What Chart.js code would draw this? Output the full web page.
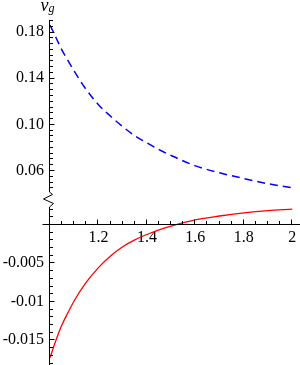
<!DOCTYPE html>
<html>
<head>
<meta charset="utf-8">
<script src="https://cdn.jsdelivr.net/npm/chart.js@4.4.1/dist/chart.umd.min.js"></script>
<style>
  html, body { margin: 0; padding: 0; background: #fff; }
</style>
</head>
<body>
<canvas id="chart" width="300" height="365"></canvas>
<script>
'use strict';

// ---------- data ----------
const X_VALUES = [1, 1.025, 1.05, 1.075, 1.1, 1.15, 1.2, 1.25, 1.3, 1.35, 1.4, 1.45, 1.5, 1.6, 1.7, 1.8, 1.9, 2];
const VG_BLUE = [0.186, 0.175, 0.164, 0.155, 0.146, 0.130, 0.117, 0.107, 0.098, 0.090, 0.084, 0.078, 0.073, 0.064, 0.058, 0.053, 0.0485, 0.045];
const VG_RED = [-0.0173, -0.0150, -0.0130, -0.0114, -0.0099, -0.0075, -0.0056, -0.0041, -0.0029, -0.0020, -0.0013, -0.0007, -0.0002, 0.0006, 0.0011, 0.0015, 0.0018, 0.0020];

const X_TICKS = [1.2, 1.4, 1.6, 1.8, 2];
const X_LABELS = ['1.2', '1.4', '1.6', '1.8', '2'];
const TOP_TICKS = [0.06, 0.10, 0.14, 0.18];
const TOP_LABELS = ['0.06', '0.10', '0.14', '0.18'];
const LOW_TICKS = [-0.015, -0.01, -0.005];
const LOW_LABELS = ['-0.015', '-0.01', '-0.005'];

// minor tick spacing per axis
const MINOR = { x: 0.05, yTop: 0.005, yLow: 0.001 };

const FONT = { family: 'Liberation Serif, serif', size: 16 };

function fixedTicks(values) {
  return (scale) => { scale.ticks = values.map((value) => ({ value })); };
}
function labelFor(values, labels) {
  return (v) => labels[values.findIndex((t) => Math.abs(t - v) < 1e-9)];
}
function isMajor(values, v) {
  return values.some((t) => Math.abs(t - v) < 1e-9);
}

// ---------- axes with the break mark ----------
const axesPlugin = {
  id: 'mmaAxes',
  afterDraw(chart) {
    const { ctx, scales } = chart;
    const { x, yTop, yLow } = scales;
    const ax = Math.round(x.getPixelForValue(1)) - 0.5;
    const ay = Math.floor(yLow.getPixelForValue(0)) + 0.5;
    const brk = yTop.bottom;

    ctx.save();
    ctx.strokeStyle = '#000';
    ctx.lineWidth = 1;
    ctx.beginPath();
    ctx.moveTo(ax, yTop.top);
    ctx.lineTo(ax, brk - 8);
    ctx.lineTo(ax + 3, brk - 5.5);
    ctx.lineTo(ax - 6, brk - 1);
    ctx.lineTo(ax + 4, brk + 3.5);
    ctx.lineTo(ax, brk + 7);
    ctx.lineTo(ax, yLow.bottom);
    ctx.moveTo(ax - 7, ay);
    ctx.lineTo(x.right, ay);
    ctx.stroke();

    ctx.beginPath();
    const yTick = (scale, step, majors, keep) => {
      for (let k = Math.ceil(scale.min / step - 1e-6); k * step <= scale.max + 1e-9; k++) {
        const v = k * step;
        const py = Math.floor(scale.getPixelForValue(v)) + 0.5;
        if (!keep(py, v)) continue;
        const len = isMajor(majors, v) ? 5 : 3.5;
        ctx.moveTo(ax, py);
        ctx.lineTo(ax + len, py);
      }
    };
    yTick(yTop, MINOR.yTop, TOP_TICKS, (py) => py < brk - 9);
    yTick(yLow, MINOR.yLow, LOW_TICKS, (py, v) => py > brk + 8 && Math.abs(v) > 1e-9);
    for (let k = Math.ceil(x.min / MINOR.x - 1e-6); k * MINOR.x <= x.max + 1e-9; k++) {
      const v = k * MINOR.x;
      if (Math.abs(v - x.min) < 1e-9) continue;
      const px = Math.round(x.getPixelForValue(v)) - 0.5;
      const len = isMajor(X_TICKS, v) ? 5 : 3.5;
      ctx.moveTo(px, ay);
      ctx.lineTo(px, ay - len);
    }
    ctx.stroke();

    // axis label v_g
    ctx.fillStyle = '#000';
    ctx.textBaseline = 'alphabetic';
    ctx.font = "italic 18px 'Liberation Serif', serif";
    ctx.fillText('v', ax - 9, 11);
    ctx.font = "italic 12px 'Liberation Serif', serif";
    ctx.fillText('g', ax - 1, 12);
    ctx.restore();
  },
};

function yAxis(min, max, weight, ticks, labels) {
  return {
    type: 'linear',
    position: 'left',
    stack: 'v',
    stackWeight: weight,
    min,
    max,
    grid: { display: false, drawTicks: false },
    border: { display: false },
    ticks: { font: FONT, color: '#000', padding: 6, autoSkip: false, callback: labelFor(ticks, labels) },
    afterBuildTicks: fixedTicks(ticks),
    afterFit: (s) => { s.width = 50; s.paddingTop = 0; s.paddingBottom = 0; },
  };
}

const points = (ys) => X_VALUES.map((x, i) => ({ x, y: ys[i] }));

new Chart(document.getElementById('chart'), {
  type: 'line',
  data: {
    datasets: [
      {
        data: points(VG_BLUE), yAxisID: 'yTop', borderColor: '#0000ff', borderWidth: 1.5,
        borderDash: [8, 5], pointRadius: 0, fill: false, cubicInterpolationMode: 'monotone',
      },
      {
        data: points(VG_RED), yAxisID: 'yLow', borderColor: '#ff0000', borderWidth: 1.3,
        pointRadius: 0, fill: false, cubicInterpolationMode: 'monotone',
      },
    ],
  },
  options: {
    responsive: false,
    animation: false,
    devicePixelRatio: 1,
    layout: { padding: { top: 20, left: 0, right: 0, bottom: 0 } },
    plugins: { legend: { display: false }, tooltip: { enabled: false } },
    scales: {
      x: {
        type: 'linear',
        position: { yLow: 0 },
        min: 1,
        max: 2.032,
        grid: { display: false, drawTicks: false },
        border: { display: false },
        ticks: { font: FONT, color: '#000', padding: 4, maxRotation: 0, autoSkip: false, callback: labelFor(X_TICKS, X_LABELS) },
        afterBuildTicks: fixedTicks(X_TICKS),
        afterFit: (s) => { s.paddingLeft = 0; s.paddingRight = 0; },
      },
      yLow: yAxis(-0.01825, 0.00318, 165, LOW_TICKS, LOW_LABELS),
      yTop: yAxis(0.0344, 0.1904, 180, TOP_TICKS, TOP_LABELS),
    },
  },
  plugins: [axesPlugin],
});
</script>
</body>
</html>
